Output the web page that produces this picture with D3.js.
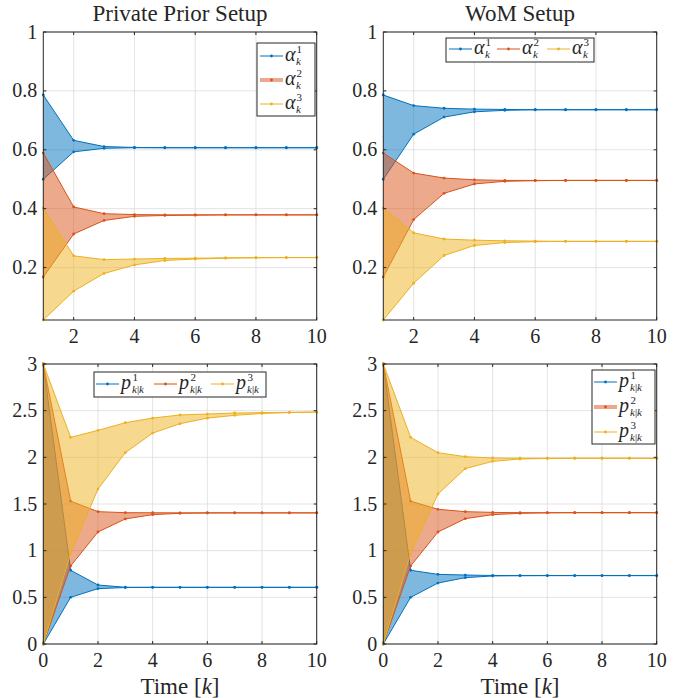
<!DOCTYPE html>
<html>
<head>
<meta charset="utf-8">
<script src="https://cdn.jsdelivr.net/npm/d3@7"></script>
<style>
  body { margin: 0; background: #fff; }
  svg text { font-family: "Liberation Serif", serif; fill: #262626; }
</style>
</head>
<body>
<div id="chart"></div>
<script>
// time steps
const kTop = [1, 2, 3, 4, 5, 6, 7, 8, 9, 10];
const kBot = [0, 1, 2, 3, 4, 5, 6, 7, 8, 9, 10];

// private prior setup, alpha bounds
const a1Up = [0.786, 0.632, 0.611, 0.608, 0.607, 0.607, 0.607, 0.607, 0.607, 0.607];
const a1Lo = [0.500, 0.593, 0.605, 0.607, 0.607, 0.607, 0.607, 0.607, 0.607, 0.607];
const a2Up = [0.589, 0.406, 0.383, 0.380, 0.379, 0.379, 0.379, 0.379, 0.379, 0.379];
const a2Lo = [0.168, 0.314, 0.360, 0.374, 0.377, 0.378, 0.379, 0.379, 0.379, 0.379];
const a3Up = [0.402, 0.240, 0.227, 0.229, 0.231, 0.232, 0.233, 0.234, 0.234, 0.234];
const a3Lo = [0.022, 0.120, 0.180, 0.209, 0.224, 0.229, 0.232, 0.233, 0.234, 0.234];

// WoM setup, alpha bounds
const b1Up = [0.786, 0.750, 0.741, 0.738, 0.737, 0.736, 0.736, 0.736, 0.736, 0.736];
const b1Lo = [0.500, 0.653, 0.711, 0.729, 0.734, 0.736, 0.736, 0.736, 0.736, 0.736];
const b2Up = [0.589, 0.521, 0.504, 0.498, 0.496, 0.496, 0.496, 0.496, 0.496, 0.496];
const b2Lo = [0.168, 0.363, 0.452, 0.484, 0.493, 0.495, 0.496, 0.496, 0.496, 0.496];
const b3Up = [0.402, 0.318, 0.297, 0.293, 0.291, 0.290, 0.289, 0.289, 0.289, 0.289];
const b3Lo = [0.022, 0.147, 0.241, 0.275, 0.285, 0.288, 0.289, 0.289, 0.289, 0.289];

// private prior setup, p bounds
const p1Up = [3, 0.790, 0.632, 0.608, 0.607, 0.607, 0.607, 0.607, 0.607, 0.607, 0.607];
const p1Lo = [0, 0.500, 0.593, 0.605, 0.607, 0.607, 0.607, 0.607, 0.607, 0.607, 0.607];
const p2Up = [3, 1.530, 1.418, 1.407, 1.406, 1.405, 1.405, 1.405, 1.405, 1.405, 1.405];
const p2Lo = [0, 0.836, 1.200, 1.340, 1.386, 1.400, 1.404, 1.405, 1.405, 1.405, 1.405];
const p3Up = [3, 2.214, 2.289, 2.371, 2.421, 2.454, 2.464, 2.475, 2.479, 2.482, 2.485];
const p3Lo = [0, 0.970, 1.660, 2.050, 2.260, 2.360, 2.420, 2.450, 2.470, 2.480, 2.485];

// WoM setup, p bounds
const q1Up = [3, 0.790, 0.746, 0.739, 0.734, 0.733, 0.733, 0.733, 0.733, 0.733, 0.733];
const q1Lo = [0, 0.500, 0.653, 0.711, 0.729, 0.732, 0.733, 0.733, 0.733, 0.733, 0.733];
const q2Up = [3, 1.530, 1.443, 1.418, 1.410, 1.407, 1.407, 1.407, 1.407, 1.407, 1.407];
const q2Lo = [0, 0.836, 1.200, 1.343, 1.386, 1.400, 1.405, 1.407, 1.407, 1.407, 1.407];
const q3Up = [3, 2.214, 2.050, 2.007, 1.993, 1.990, 1.990, 1.990, 1.990, 1.990, 1.990];
const q3Lo = [0, 0.970, 1.607, 1.879, 1.957, 1.982, 1.988, 1.990, 1.990, 1.990, 1.990];

const colors = ["#0072BD", "#D95319", "#EDB120"];
const serif = "'Liberation Serif', serif";

let svg = d3.select("#chart").append("svg").attr("width", 680).attr("height", 698)
  .attr("font-family", serif);

function panel(o) {
  let x = d3.scaleLinear().domain(o.xDomain).range([o.left, o.left + 273.4]);
  let y = d3.scaleLinear().domain(o.yDomain).range([o.top + o.h, o.top]);
  let g = svg.append("g");

  // grid
  g.selectAll(".gx").data(o.xTicks).enter().append("line")
    .attr("x1", d => x(d)).attr("x2", d => x(d))
    .attr("y1", y.range()[0]).attr("y2", y.range()[1])
    .attr("stroke", "#dcdcdc").attr("stroke-width", 0.8);
  g.selectAll(".gy").data(o.yTicks).enter().append("line")
    .attr("y1", d => y(d)).attr("y2", d => y(d))
    .attr("x1", x.range()[0]).attr("x2", x.range()[1])
    .attr("stroke", "#dcdcdc").attr("stroke-width", 0.8);

  let area = d3.area().x(d => x(d.k)).y0(d => y(d.lo)).y1(d => y(d.hi));
  let lineHi = d3.line().x(d => x(d.k)).y(d => y(d.hi));
  let lineLo = d3.line().x(d => x(d.k)).y(d => y(d.lo));

  o.series.forEach((s, i) => {
    let data = o.k.map((k, j) => ({ k: k, hi: s[0][j], lo: s[1][j] }));
    g.append("path").datum(data).attr("d", area)
      .attr("fill", colors[i]).attr("fill-opacity", 0.5).attr("stroke", "none");
    [lineHi, lineLo].forEach((ln, m) => {
      g.append("path").datum(data).attr("d", ln)
        .attr("fill", "none").attr("stroke", colors[i]).attr("stroke-width", 1);
      g.selectAll(null).data(data).enter().append("circle")
        .attr("cx", d => x(d.k)).attr("cy", d => y(m === 0 ? d.hi : d.lo))
        .attr("r", 1.4).attr("fill", colors[i]);
    });
  });

  // box
  g.append("rect").attr("x", x.range()[0]).attr("y", y.range()[1])
    .attr("width", x.range()[1] - x.range()[0]).attr("height", y.range()[0] - y.range()[1])
    .attr("fill", "none").attr("stroke", "#262626").attr("stroke-width", 1);

  // ticks inside on all sides
  let tl = 3;
  o.xTicks.forEach(t => {
    g.append("line").attr("x1", x(t)).attr("x2", x(t)).attr("y1", y.range()[0]).attr("y2", y.range()[0] - tl).attr("stroke", "#262626");
    g.append("line").attr("x1", x(t)).attr("x2", x(t)).attr("y1", y.range()[1]).attr("y2", y.range()[1] + tl).attr("stroke", "#262626");
    g.append("text").attr("x", x(t)).attr("y", y.range()[0] + 23)
      .attr("text-anchor", "middle").attr("font-size", 20).text(t);
  });
  o.yTicks.forEach(t => {
    g.append("line").attr("y1", y(t)).attr("y2", y(t)).attr("x1", x.range()[0]).attr("x2", x.range()[0] + tl).attr("stroke", "#262626");
    g.append("line").attr("y1", y(t)).attr("y2", y(t)).attr("x1", x.range()[1]).attr("x2", x.range()[1] - tl).attr("stroke", "#262626");
    g.append("text").attr("x", x.range()[0] - 6).attr("y", y(t)).attr("dy", "0.33em")
      .attr("text-anchor", "end").attr("font-size", 20).text(t);
  });

  if (o.title) {
    g.append("text").attr("x", (x.range()[0] + x.range()[1]) / 2).attr("y", o.top - 11)
      .attr("text-anchor", "middle").attr("font-size", 23).text(o.title);
  }
  if (o.xlabel) {
    let t = g.append("text").attr("x", (x.range()[0] + x.range()[1]) / 2).attr("y", y.range()[0] + 50)
      .attr("text-anchor", "middle").attr("font-size", 23);
    t.append("tspan").text("Time [");
    t.append("tspan").attr("font-style", "italic").text("k");
    t.append("tspan").text("]");
  }

  // legend
  let L = o.legend;
  g.append("rect").attr("x", L.x).attr("y", L.y).attr("width", L.w).attr("height", L.h)
    .attr("fill", "#fff").attr("stroke", "#262626").attr("stroke-width", 1);
  L.items.forEach((it, i) => {
    let lx = L.x + it[0], ly = L.y + it[1];
    if (L.patch === i) {
      // this entry shows the shaded band style
      g.append("rect").attr("x", lx).attr("y", ly - 2).attr("width", 23).attr("height", 4)
        .attr("fill", colors[i]).attr("fill-opacity", 0.5);
    } else {
      g.append("line").attr("x1", lx).attr("x2", lx + 23).attr("y1", ly).attr("y2", ly)
        .attr("stroke", colors[i]).attr("stroke-width", 1);
    }
    g.append("circle").attr("cx", lx + 11.5).attr("cy", ly).attr("r", 1.4).attr("fill", colors[i]);
    let tx = lx + 25;
    // symbol with stacked super/subscript, one text element
    let t = g.append("text").attr("x", tx).attr("y", ly + 5);
    t.append("tspan").attr("font-size", 20).attr("font-style", "italic").text(L.sym);
    t.append("tspan").attr("x", tx + 11.5).attr("y", ly - 3).attr("font-size", 11).text(i + 1);
    t.append("tspan").attr("x", tx + 11).attr("y", ly + 9).attr("font-size", 11)
      .attr("font-style", "italic").text("k");
    if (L.sym === "p") {
      t.append("tspan").attr("font-size", 11).text("|");
      t.append("tspan").attr("font-size", 11).attr("font-style", "italic").text("k");
    }
  });
}

panel({
  left: 43.3, top: 32, h: 288, xDomain: [1, 10], yDomain: [0.022, 1],
  xTicks: [2, 4, 6, 8, 10], yTicks: [0.2, 0.4, 0.6, 0.8, 1], k: kTop,
  series: [[a1Up, a1Lo], [a2Up, a2Lo], [a3Up, a3Lo]],
  title: "Private Prior Setup",
  legend: { x: 257, y: 43, w: 58, h: 73, sym: "α", patch: 1, items: [[3, 13], [3, 37], [3, 61]] }
});
panel({
  left: 383.3, top: 32, h: 288, xDomain: [1, 10], yDomain: [0.022, 1],
  xTicks: [2, 4, 6, 8, 10], yTicks: [0.2, 0.4, 0.6, 0.8, 1], k: kTop,
  series: [[b1Up, b1Lo], [b2Up, b2Lo], [b3Up, b3Lo]],
  title: "WoM Setup",
  legend: { x: 446, y: 38, w: 148, h: 24, sym: "α", items: [[3, 11], [51, 11], [101, 11]] }
});
panel({
  left: 43.3, top: 364, h: 280, xDomain: [0, 10], yDomain: [0, 3],
  xTicks: [0, 2, 4, 6, 8, 10], yTicks: [0, 0.5, 1, 1.5, 2, 2.5, 3], k: kBot,
  series: [[p1Up, p1Lo], [p2Up, p2Lo], [p3Up, p3Lo]],
  xlabel: true,
  legend: { x: 94, y: 372, w: 172, h: 25, sym: "p", items: [[2, 12], [60, 12], [117, 12]] }
});
panel({
  left: 383.3, top: 364, h: 280, xDomain: [0, 10], yDomain: [0, 3],
  xTicks: [0, 2, 4, 6, 8, 10], yTicks: [0, 0.5, 1, 1.5, 2, 2.5, 3], k: kBot,
  series: [[q1Up, q1Lo], [q2Up, q2Lo], [q3Up, q3Lo]],
  xlabel: true,
  legend: { x: 592, y: 370, w: 63, h: 74, sym: "p", patch: 1, items: [[2, 12], [2, 37], [2, 62]] }
});
</script>
</body>
</html>
